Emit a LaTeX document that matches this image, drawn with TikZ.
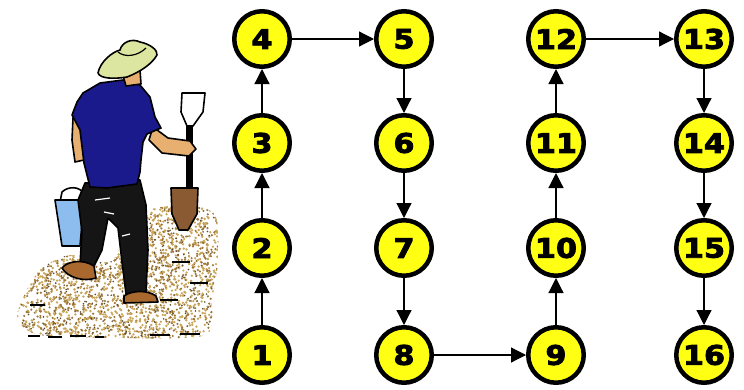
\documentclass[tikz,border=0pt]{standalone}
\usepackage{fontspec}
\newfontfamily\numfont[FakeStretch=1.12,FakeBold=3]{DejaVu Sans}
\usetikzlibrary{arrows.meta}
\definecolor{nodeyellow}{HTML}{FFFF14}
\definecolor{hatcol}{HTML}{DDE6A0}
\definecolor{skin}{HTML}{E8B070}
\definecolor{shirt}{HTML}{1A1A8C}
\definecolor{pants}{HTML}{151515}
\definecolor{bucket}{HTML}{8DBDEE}
\definecolor{shovel}{HTML}{8A5A32}
\definecolor{shoe}{HTML}{A8682E}
\definecolor{soilA}{HTML}{C9A65C}
\definecolor{soilB}{HTML}{9A7438}
\definecolor{soilC}{HTML}{5A4A30}
\tikzset{
  stepnode/.style={circle, draw=black, line width=4.5pt, fill=nodeyellow,
    minimum size=55.5pt, inner sep=0pt, font=\numfont\bfseries\fontsize{27}{27}\selectfont},
  link/.style={line width=1.2pt, -{Triangle[length=15pt,width=15pt]}},
  outl/.style={draw=black, line width=1.6pt, line join=round}
}
\begin{document}
\begin{tikzpicture}[x=1pt,y=-1pt]
\useasboundingbox (0,0) rectangle (744,389);
% ---------------- ground ----------------
\begin{scope}
\clip plot[smooth cycle] coordinates {(22,300) (40,270) (70,255) (110,262) (128,230) (150,210) (185,205) (215,215) (218,260) (212,300) (205,335) (120,338) (40,335) (18,320)};
\pgfmathsetseed{7}
\foreach \i in {1,...,3200}{
  \pgfmathsetmacro\px{15+205*rnd}
  \pgfmathsetmacro\py{200+140*rnd}
  \pgfmathsetmacro\c{rnd}
  \ifdim\c pt<0.5pt \fill[soilA] (\px,\py) circle (1.3);
  \else\ifdim\c pt<0.85pt \fill[soilB] (\px,\py) circle (1.2);
  \else \fill[soilC] (\px,\py) circle (0.9);\fi\fi
}
\end{scope}
\foreach \a/\b/\yy in {28/40/336, 48/62/337, 70/86/336, 95/104/337, 150/170/335, 180/200/334, 160/178/300, 172/190/262, 30/45/305, 190/208/283}
  \draw[black, line width=1.5pt] (\a,\yy) -- (\b,\yy);
% ---------------- shovel ----------------
\fill[black] (186,122) rectangle (193,192);
\filldraw[fill=white, outl] (182,93) -- (205,93) -- (203,112) -- (193,126) -- (187,126) -- (181,112) -- cycle;
\filldraw[fill=shovel, outl] (171,188) -- (198,188) -- (197,214) -- (188,230) -- (179,230) -- (172,214) -- cycle;
% ---------------- bucket ----------------
\filldraw[fill=white, outl] (60,202) -- (62,192) .. controls (68,186) and (80,186) .. (84,194) -- (84,202) -- cycle;
\filldraw[fill=bucket, outl] (55,200) -- (84,200) -- (80,246) -- (62,246) -- cycle;
% ---------------- trousers ----------------
\filldraw[fill=pants, outl] (85,183) -- (140,180) -- (146,205) -- (148,250) -- (146,292) -- (126,294) -- (122,262) -- (118,228) -- (108,218) -- (102,250) -- (94,266) -- (80,264) -- (82,232) -- (78,200) -- cycle;
\draw[white, line width=1.2pt] (95,200) -- (110,198) (104,212) -- (114,214) (122,236) -- (130,234);
% shoes
\filldraw[fill=shoe, outl] (62,268) .. controls (66,262) and (82,258) .. (94,266) -- (96,278) .. controls (84,282) and (68,278) .. (62,268) -- cycle;
\filldraw[fill=shoe, outl] (124,296) .. controls (132,290) and (148,290) .. (156,296) -- (158,302) -- (124,303) -- cycle;
% ---------------- arms ----------------
\filldraw[fill=skin, outl] (73,118) -- (84,114) -- (86,140) -- (84,160) -- (75,162) -- (72,140) -- cycle;
\filldraw[fill=skin, outl] (153,127) -- (168,138) -- (190,141) -- (196,149) -- (189,156) -- (162,153) -- (149,140) -- cycle;
% ---------------- shirt ----------------
\filldraw[fill=shirt, outl] (83,93) -- (100,83) -- (123,80) -- (140,85) -- (150,97) -- (155,117) -- (161,128) -- (147,134) -- (143,142) -- (141,160) -- (140,172) -- (137,184) -- (107,188) -- (90,187) -- (84,163) -- (80,130) -- (72,115) -- (77,102) -- cycle;
% ---------------- head & hat ----------------
\filldraw[fill=skin, outl] (122,72) -- (140,70) -- (141,84) -- (126,86) -- cycle;
\filldraw[fill=hatcol, outl] (98,73) .. controls (100,62) and (112,52) .. (120,50) .. controls (122,42) and (132,38) .. (140,42) .. controls (150,44) and (158,50) .. (157,55) .. controls (152,64) and (140,72) .. (127,77) .. controls (115,79) and (100,79) .. (98,73) -- cycle;
\draw[black, line width=1.2pt] (118,52) .. controls (125,58) and (138,56) .. (146,48);
% ---------------- nodes ----------------
\node[stepnode] (n1)  at (262,355) {1};
\node[stepnode] (n2)  at (262,248) {2};
\node[stepnode] (n3)  at (262,143) {3};
\node[stepnode] (n4)  at (262,39)  {4};
\node[stepnode] (n5)  at (404,39)  {5};
\node[stepnode] (n6)  at (404,143) {6};
\node[stepnode] (n7)  at (404,248) {7};
\node[stepnode] (n8)  at (404,355) {8};
\node[stepnode] (n9)  at (556,355) {9};
\node[stepnode] (n10) at (556,248) {10};
\node[stepnode] (n11) at (556,143) {11};
\node[stepnode] (n12) at (556,39)  {12};
\node[stepnode] (n13) at (704,39)  {13};
\node[stepnode] (n14) at (704,143) {14};
\node[stepnode] (n15) at (704,248) {15};
\node[stepnode] (n16) at (704,355) {16};
\foreach \a/\b in {n1/n2, n2/n3, n3/n4, n4/n5, n5/n6, n6/n7, n7/n8, n8/n9, n9/n10, n10/n11, n11/n12, n12/n13, n13/n14, n14/n15, n15/n16}
  \draw[link] (\a) -- (\b);
\end{tikzpicture}
\end{document}
